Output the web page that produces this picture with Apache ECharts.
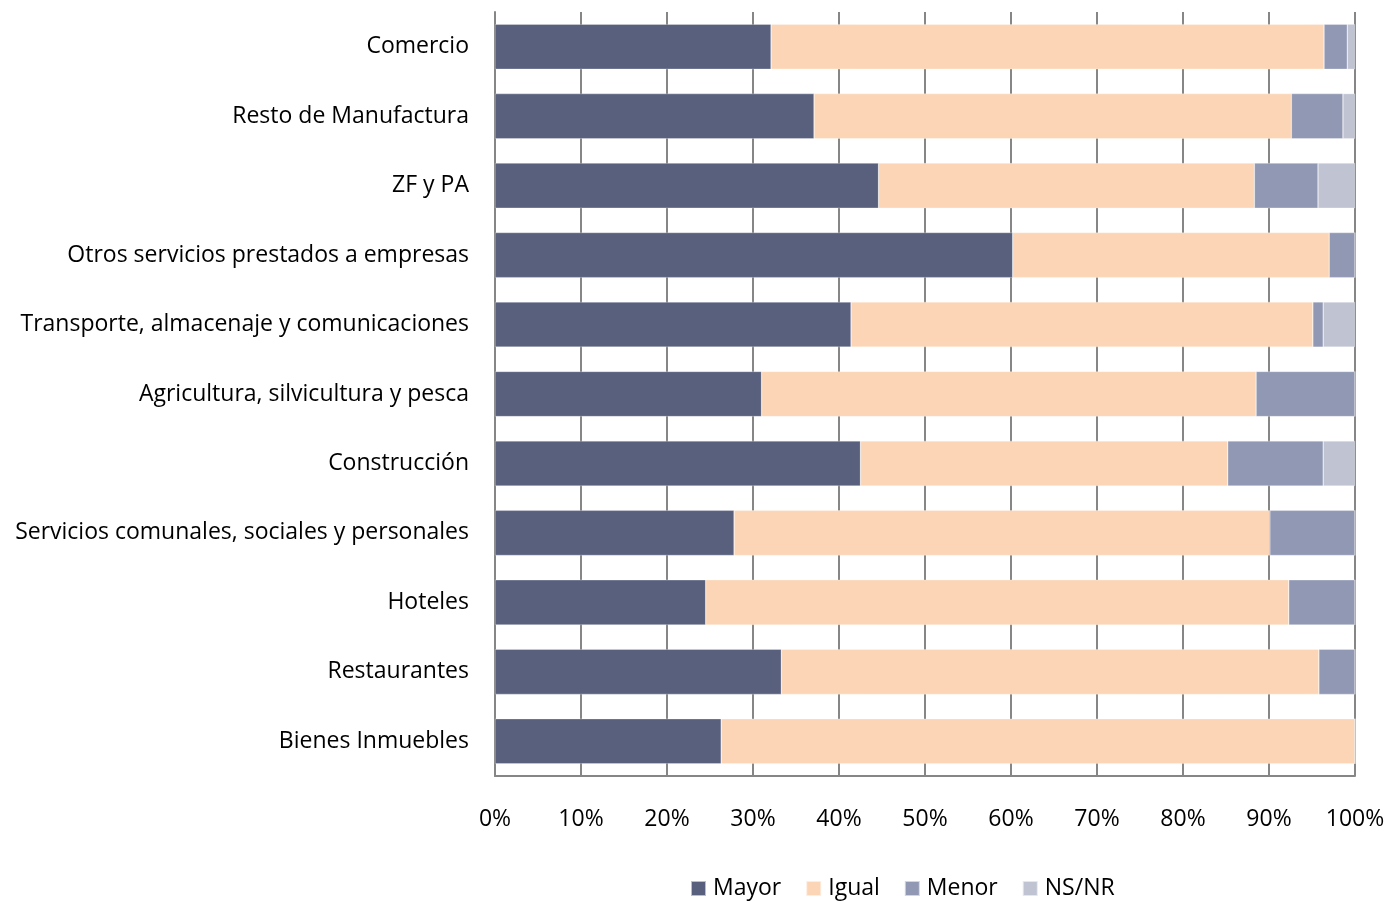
<!DOCTYPE html>
<html>
<head>
<meta charset="utf-8">
<script src="https://cdn.jsdelivr.net/npm/echarts@6/dist/echarts.min.js"></script>
<style>html,body{margin:0;padding:0;background:#fff}#c{width:1388px;height:901px}</style>
</head>
<body>
<div id="c"></div>
<script>
const categories = ["Comercio","Resto de Manufactura","ZF y PA","Otros servicios prestados a empresas","Transporte, almacenaje y comunicaciones","Agricultura, silvicultura y pesca","Construcción","Servicios comunales, sociales y personales","Hoteles","Restaurantes","Bienes Inmuebles"];
const mayor = [32.1,37.1,44.6,60.2,41.4,31.0,42.5,27.8,24.5,33.3,26.3];
const igual = [64.3,55.5,43.7,36.8,53.7,57.5,42.7,62.3,67.8,62.5,73.7];
const menor = [2.7,6.0,7.4,3.0,1.2,11.5,11.1,9.9,7.7,4.2,0];
const nsnr  = [0.9,1.4,4.3,0,3.7,0,3.7,0,0,0,0];
const seriesNames = ["Mayor","Igual","Menor","NS/NR"];
const colors = ["#58607E","#FBD5B5","#9198B3","#BFC3D2"];
const xTicks = [0,10,20,30,40,50,60,70,80,90,100];

const FONT = "'Open Sans', 'Noto Sans', sans-serif";
const chart = echarts.init(document.getElementById('c'));
const values = [mayor, igual, menor, nsnr];
chart.setOption({
  animation: false,
  grid: {left: 495, right: 33, top: 12, bottom: 125, containLabel: false},
  legend: {
    left: 685, top: 872, itemWidth: 15, itemHeight: 15, itemGap: 24,
    icon: 'rect',
    textStyle: {fontFamily: FONT, fontSize: 23, color: '#000', padding: [0,0,0,2]},
    data: seriesNames
  },
  xAxis: {
    type: 'value', min: xTicks[0], max: xTicks[xTicks.length-1], interval: 10,
    axisLine: {show: true, lineStyle: {color: '#868686', width: 2}},
    axisTick: {show: false},
    splitLine: {show: true, lineStyle: {color: '#868686', width: 2}},
    axisLabel: {formatter: '{value}%', fontFamily: FONT, fontSize: 23, color: '#000', margin: 32}
  },
  yAxis: {
    type: 'category', inverse: true, data: categories,
    axisLine: {show: true, lineStyle: {color: '#868686', width: 2}},
    axisTick: {show: false},
    axisLabel: {fontFamily: FONT, fontSize: 23, color: '#000', margin: 26}
  },
  series: seriesNames.map((n, i) => ({
    name: n, type: 'bar', stack: 'total', data: values[i],
    barCategoryGap: '35%',
    itemStyle: {color: colors[i], borderColor: 'rgba(255,255,255,0.6)', borderWidth: 0.5}
  }))
});
</script>
</body>
</html>
